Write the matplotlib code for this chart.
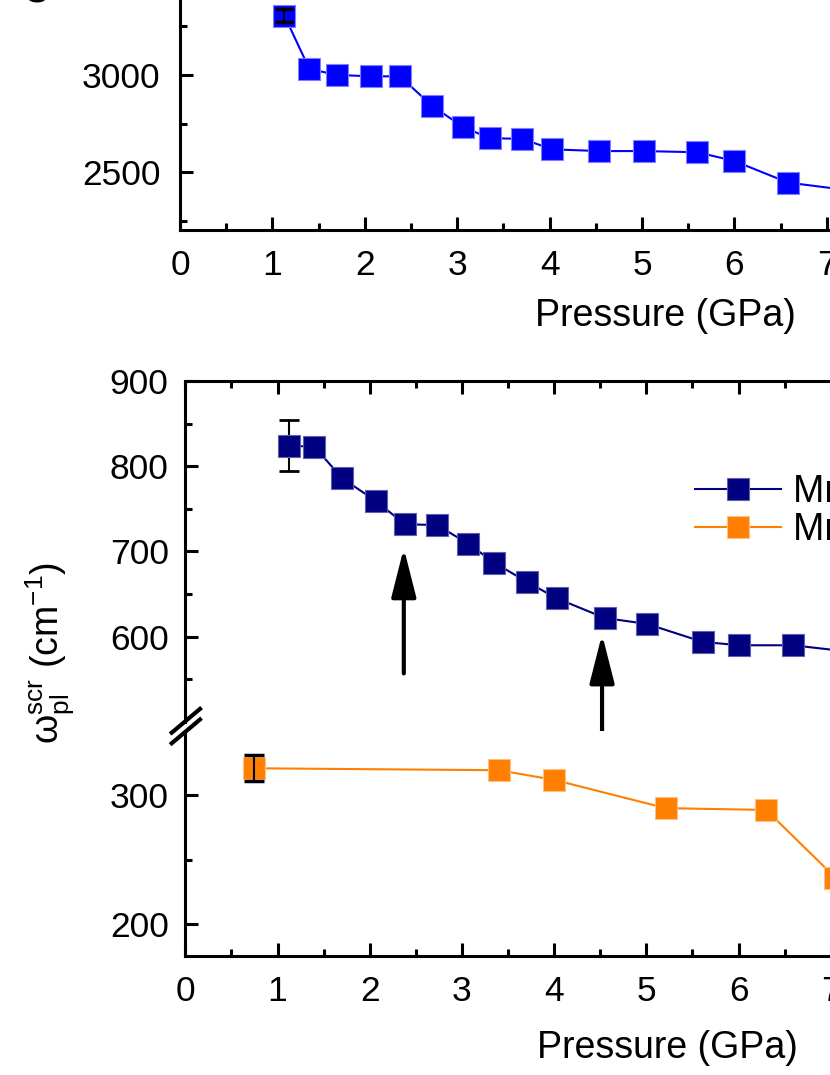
import numpy as np
import matplotlib
matplotlib.use('Agg')
import matplotlib.pyplot as plt
from matplotlib.lines import Line2D
from matplotlib.ticker import MultipleLocator

plt.rcParams['font.family'] = ['Liberation Sans', 'DejaVu Sans']
plt.rcParams['mathtext.fontset'] = 'custom'
plt.rcParams['mathtext.rm'] = 'Liberation Sans'
plt.rcParams['mathtext.it'] = 'Liberation Sans:italic'

# ---- data ----
# top panel (blue)
p_top = [1.13, 1.40, 1.70, 2.07, 2.38, 2.73, 3.06, 3.35, 3.70, 4.03, 4.54, 5.02, 5.60, 6.00, 6.58, 7.40]
w_top = [3305, 3031, 3000, 2993, 2993, 2841, 2734, 2675, 2672, 2618, 2609, 2609, 2603, 2558, 2447, 2398]
err_top = 32

# bottom panel, navy series
p_navy = [1.13, 1.40, 1.70, 2.07, 2.38, 2.73, 3.07, 3.35, 3.71, 4.03, 4.55, 5.01, 5.61, 6.01, 6.59, 7.40]
w_navy = [824, 823, 786, 759, 732, 731, 709, 687, 664, 645, 622, 615, 594, 590, 590, 580]
err_navy = 30

# bottom panel, orange series
p_orng = [0.75, 3.40, 4.00, 5.21, 6.30, 7.05]
w_orng = [321, 319.5, 312, 290, 288.6, 236]
err_orng = 10

legend_labels = ['MnP, E||b', 'MnP, E||c']
arrow_x = [2.37, 4.52]

W, H = 830, 1075
fig = plt.figure(figsize=(W / 100, H / 100), dpi=100)


def rect(left, top, right, bottom):
    # pixel box -> figure fraction
    return [left / W, 1 - bottom / H, (right - left) / W, (bottom - top) / H]


def style(ax, ypad=14):
    ax.tick_params(which='both', direction='in', width=2.2, labelsize=25.5)
    ax.tick_params(which='major', length=9.5)
    ax.tick_params(which='minor', length=4.7)
    ax.tick_params(axis='y', pad=ypad)
    ax.tick_params(axis='x', pad=14)
    for s in ax.spines.values():
        s.set_linewidth(2.2)
    ax.xaxis.set_major_locator(MultipleLocator(1))
    ax.xaxis.set_minor_locator(MultipleLocator(0.5))


mk = dict(marker='s', markersize=15.5, markeredgewidth=0.8, linewidth=1.5)

# ---------------- top panel ----------------
ax1 = fig.add_axes(rect(180, -100, 1030, 230))
style(ax1)
ax1.plot(p_top, w_top, color='#0000FF', markeredgecolor='#8080FF', zorder=2, **mk)
ax1.errorbar(p_top[0], w_top[0], yerr=err_top, color='black', elinewidth=1.5,
             capsize=6.5, capthick=2.5, zorder=3)
ax1.set_xlim(0, 850 / 92.4)
ax1.set_ylim(2203.5, 3899)
ax1.yaxis.set_major_locator(MultipleLocator(500))
ax1.yaxis.set_minor_locator(MultipleLocator(250))
fig.text(665 / W, 1 - 316 / H, 'Pressure (GPa)', fontsize=27, ha='center', va='center')
fig.text(38 / W, 1 - 4 / H, 'ω$_{\\rm pl}$ (cm$^{-1}$)', fontsize=27,
         rotation=90, ha='center', va='bottom')

# ---------------- bottom panel (broken y axis) ----------------
ax_up = fig.add_axes(rect(185.3, 381, 1030, 722))
ax_lo = fig.add_axes(rect(185.3, 731, 1030, 956))
for ax in (ax_up, ax_lo):
    style(ax, ypad=12)
    ax.set_xlim(0, 844.7 / 92.2)
    ax.spines['right'].set_visible(False)

ax_up.set_ylim(500, 900)
ax_up.spines['bottom'].set_visible(False)
ax_up.tick_params(axis='x', which='both', bottom=False, top=True, labelbottom=False)
ax_up.set_yticks([600, 700, 800, 900])
ax_up.set_yticks([550, 650, 750, 850], minor=True)

ax_lo.set_ylim(175, 350)
ax_lo.spines['top'].set_visible(False)
ax_lo.tick_params(axis='x', which='both', top=False)
ax_lo.set_yticks([200, 300])
ax_lo.set_yticks([250], minor=True)

h1, = ax_up.plot(p_navy, w_navy, color='#000080', markeredgecolor='#6060B0', zorder=3, **mk)
ax_up.errorbar(p_navy[0], w_navy[0], yerr=err_navy, color='black', elinewidth=1.5,
               capsize=7, capthick=2, zorder=2)
h2, = ax_lo.plot(p_orng, w_orng, color='#FF8000', markeredgecolor='#FFC080', zorder=2, **mk)
ax_lo.errorbar(p_orng[0], w_orng[0], yerr=err_orng, color='black', elinewidth=1.5,
               capsize=7, capthick=2.5, zorder=3)

# arrows
aprops = dict(arrowstyle='-|>,head_length=1.5,head_width=0.38', color='black',
              lw=3, shrinkA=0, shrinkB=0, mutation_scale=20)
ax_up.annotate('', xy=(arrow_x[0], 704), xytext=(arrow_x[0], 557), arrowprops=aprops)
ax_up.annotate('', xy=(arrow_x[1], 603), xytext=(arrow_x[1], 327),
               textcoords=ax_lo.transData, arrowprops=aprops, annotation_clip=False)

# axis break marks
for y0 in (732.7, 743.3):
    fig.add_artist(Line2D([171.7 / W, 200 / W], [1 - y0 / H, 1 - (y0 - 23.8) / H],
                          color='black', lw=3, transform=fig.transFigure))

fig.legend([h1, h2], legend_labels, loc='center left',
           bbox_to_anchor=(695 / W, 1 - 511 / H), frameon=False, fontsize=27,
           borderpad=0, borderaxespad=0, handlelength=2.3, handletextpad=0.3,
           labelspacing=0.05)

fig.text(667 / W, 1 - 1048 / H, 'Pressure (GPa)', fontsize=27, ha='center', va='center')
fig.text(50 / W, 1 - 744 / H, 'ω$_{\\rm pl}^{\\rm scr}$ (cm$^{-1}$)', fontsize=27,
         rotation=90, ha='center', va='bottom')

fig.savefig('out.png', dpi=100)
